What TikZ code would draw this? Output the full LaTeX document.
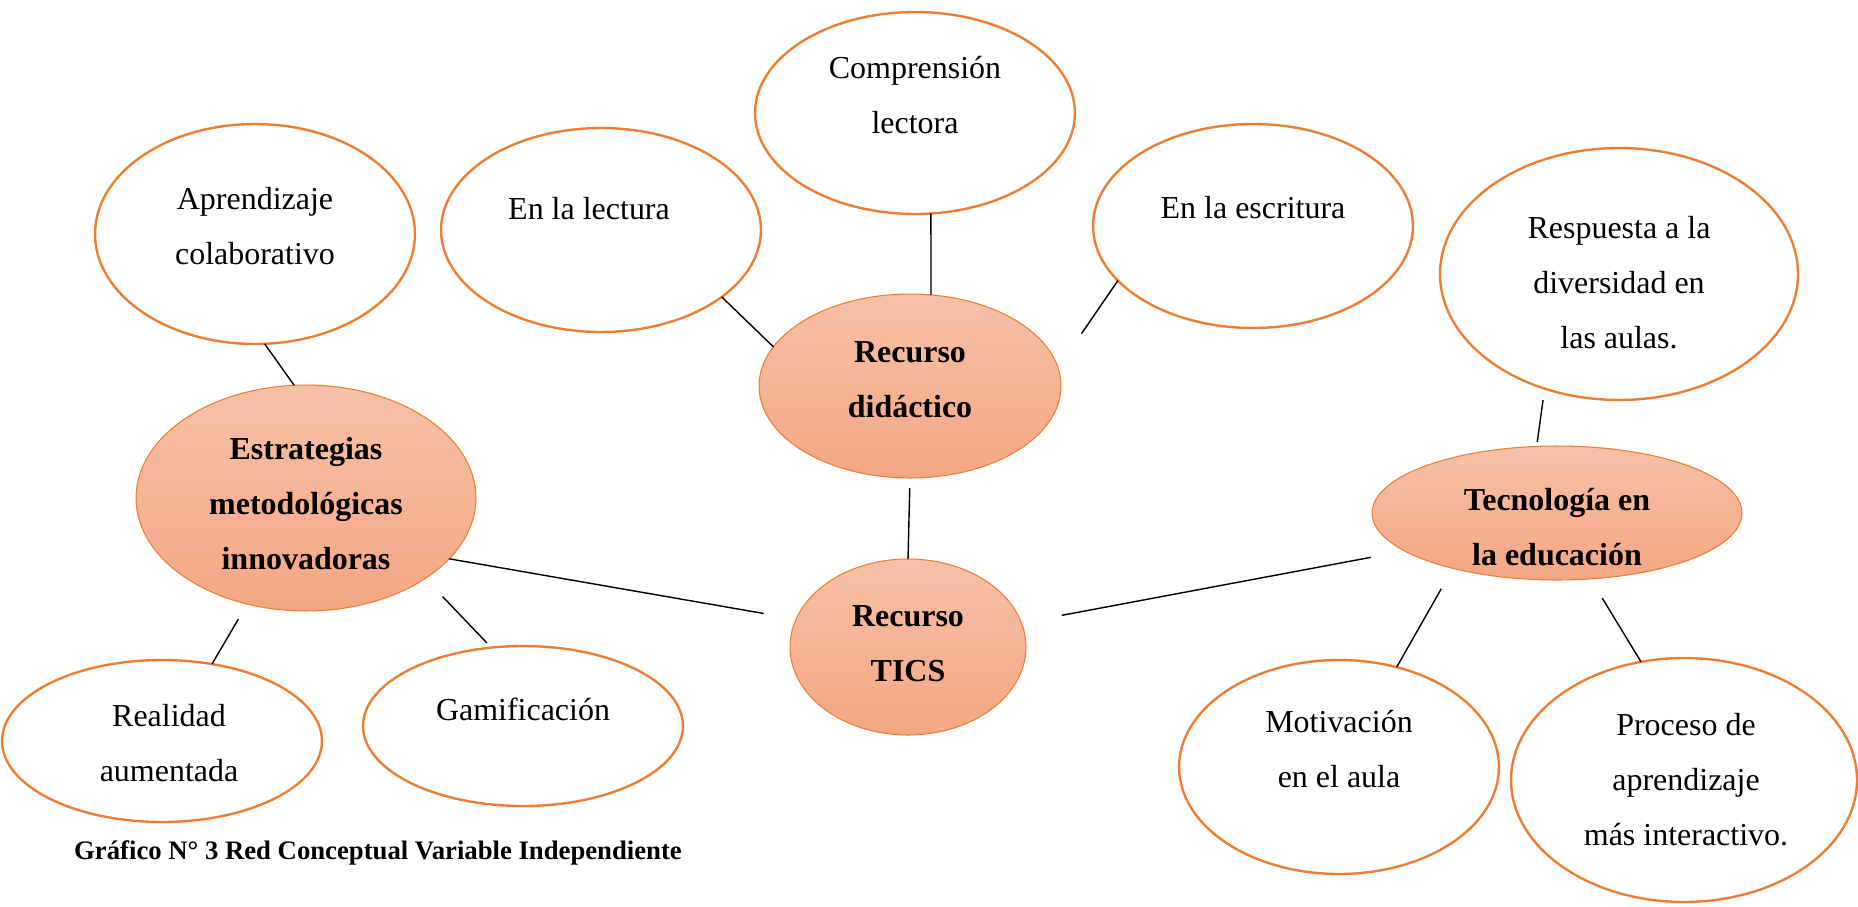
\documentclass[tikz,border=0pt]{standalone}
\usepackage{fontspec}
\setmainfont{Liberation Serif}
\usetikzlibrary{shapes.geometric, positioning, calc}
\definecolor{borde}{RGB}{237,125,49}
\definecolor{claro}{RGB}{247,193,167}
\definecolor{oscuro}{RGB}{244,166,131}

\begin{document}
\begin{tikzpicture}[
    x=0.02cm, y=-0.02cm,
    idea/.style={ellipse, draw=borde, line width=1.35pt, fill=white, inner sep=0pt, outer sep=0pt},
    eje/.style={ellipse, draw=borde, line width=0.6pt, top color=claro, bottom color=oscuro, inner sep=0pt, outer sep=0pt},
    every label/.style={align=center, font=\fontsize{18.2pt}{31.3pt}\selectfont},
    negrita/.style={font=\fontsize{18.2pt}{31.3pt}\selectfont\bfseries},
    enlace/.style={draw, line width=0.8pt}
]
\useasboundingbox (0,0) rectangle (1858,906);

\node[idea, minimum width=6.4cm, minimum height=4.4cm,
    label={[yshift=0.16cm]center:{Aprendizaje\\colaborativo}}] (apr) at (255,234) {};
\node[idea, minimum width=6.4cm, minimum height=4.08cm,
    label={[yshift=0.42cm, xshift=-0.24cm]center:{En la lectura}}] (lect) at (601,230) {};
\node[idea, minimum width=6.4cm, minimum height=4.04cm,
    label={[yshift=0.36cm]center:{Comprensión\\lectora}}] (comp) at (915,113) {};
\node[idea, minimum width=6.4cm, minimum height=4.08cm,
    label={[yshift=0.36cm]center:{En la escritura}}] (escr) at (1253,226) {};
\node[idea, minimum width=7.16cm, minimum height=5.04cm,
    label={[yshift=-0.18cm]center:{Respuesta a la\\diversidad en\\las aulas.}}] (resp) at (1619,274) {};

\node[eje, minimum width=6.04cm, minimum height=3.68cm,
    label={[negrita, yshift=0.12cm]center:{Recurso\\didáctico}}] (did) at (910,386) {};
\node[eje, minimum width=6.8cm, minimum height=4.52cm,
    label={[negrita, yshift=-0.12cm]center:{Estrategias\\metodológicas\\innovadoras}}] (estr) at (306,498) {};
\node[eje, minimum width=4.72cm, minimum height=3.52cm,
    label={[negrita, yshift=0.06cm]center:{Recurso\\TICS}}] (tics) at (908,647) {};
\node[eje, minimum width=7.4cm, minimum height=2.68cm,
    label={[negrita, yshift=-0.28cm]center:{Tecnología en\\la educación}}] (tec) at (1557,513) {};

\node[idea, minimum width=6.4cm, minimum height=3.24cm,
    label={[yshift=-0.04cm, xshift=0.14cm]center:{Realidad\\aumentada}}] (real) at (162,741) {};
\node[idea, minimum width=6.4cm, minimum height=3.2cm,
    label={[yshift=0.34cm]center:{Gamificación}}] (gam) at (523,726) {};
\node[idea, minimum width=6.4cm, minimum height=4.28cm,
    label={[yshift=0.36cm]center:{Motivación\\en el aula}}] (mot) at (1339,767) {};
\node[idea, minimum width=6.92cm, minimum height=4.88cm,
    label={[xshift=0.04cm]center:{Proceso de\\aprendizaje\\más interactivo.}}] (proc) at (1684,780) {};

\draw[enlace] (apr.-85) -- (estr.96);
\draw[enlace] (lect.-29) -- (did.164);
\draw[enlace] (comp.-81) -- (did.77);
\draw[enlace, shorten >=0.83cm] (escr.202) -- (did.7);
\draw[enlace, shorten <=0.2cm] (did.south) -- (tics.north);
\draw[enlace, shorten >=0.66cm] (estr.-23) -- (tics.166);
\draw[enlace, shorten <=0.35cm] (estr.241) -- (real.57);
\draw[enlace, shorten <=0.5cm, shorten >=0.13cm] (estr.-34) -- (gam.112);
\draw[enlace, shorten <=0.82cm, shorten >=0.69cm] (tics.12) -- (tec.194);
\draw[enlace, shorten <=0.23cm, shorten >=0.09cm] (resp.237) -- (tec.107);
\draw[enlace, shorten <=0.47cm] (tec.208) -- (mot.60);
\draw[enlace, shorten <=0.45cm] (tec.-63) -- (proc.110);

\node[anchor=base west, font=\fontsize{15.2pt}{18pt}\selectfont\bfseries] (titulo) at (68,859)
    {Gráfico N° 3 Red Conceptual Variable Independiente};
\end{tikzpicture}
\end{document}
